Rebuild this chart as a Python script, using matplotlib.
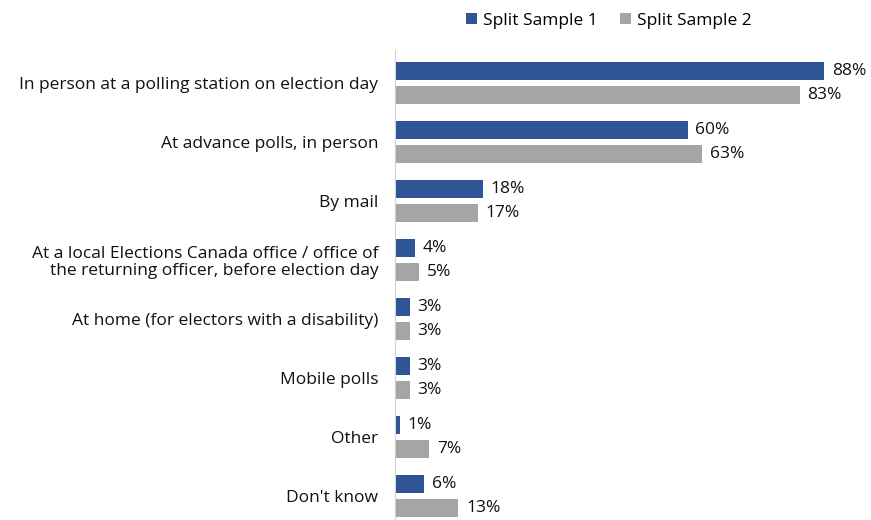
import numpy as np
import matplotlib.pyplot as plt

# Voting methods and share of respondents for each split sample
categories = [
    "In person at a polling station on election day",
    "At advance polls, in person",
    "By mail",
    "At a local Elections Canada office / office of\nthe returning officer, before election day",
    "At home (for electors with a disability)",
    "Mobile polls",
    "Other",
    "Don't know",
]
sample1 = [88, 60, 18, 4, 3, 3, 1, 6]
sample2 = [83, 63, 17, 5, 3, 3, 7, 13]
series_names = ["Split Sample 1", "Split Sample 2"]

blue = "#2F5597"
grey = "#A5A5A5"
fs = 12.5

plt.rcParams['font.family'] = ['Open Sans', 'DejaVu Sans']

fig = plt.figure(figsize=(8.71, 5.2), dpi=100)
ax = fig.add_axes([395 / 871, 0, 476 / 871, 470 / 520])

y = np.arange(len(categories))
h = 0.305
off = 0.203
b1 = ax.barh(y - off, sample1, height=h, color=blue, label=series_names[0])
b2 = ax.barh(y + off, sample2, height=h, color=grey, label=series_names[1])

for bars, vals in ((b1, sample1), (b2, sample2)):
    for bar, v in zip(bars, vals):
        ax.text(v + 1.6, bar.get_y() + bar.get_height() / 2, f"{v}%",
                va='center', ha='left', fontsize=fs, color='#111111')

ax.set_xlim(0, 476 / 4.875)
ax.set_ylim(len(categories) - 1 + 24 / 59, -33 / 59)
ax.set_yticks(y)
ax.set_yticklabels(categories, fontsize=fs, color='#111111', linespacing=1.1)
ax.tick_params(axis='y', length=0, pad=12)
ax.set_xticks([])
for s in ('top', 'right', 'bottom'):
    ax.spines[s].set_visible(False)
ax.spines['left'].set_color('#D0D0D0')

fig.legend(handles=[b1, b2], labels=series_names, loc='center',
           bbox_to_anchor=(609 / 871, 1 - 21 / 520), ncol=2, frameon=False,
           fontsize=fs, handlelength=0.6, handleheight=0.6,
           handletextpad=0.35, columnspacing=1.3)

fig.savefig("out.png", dpi=100)
